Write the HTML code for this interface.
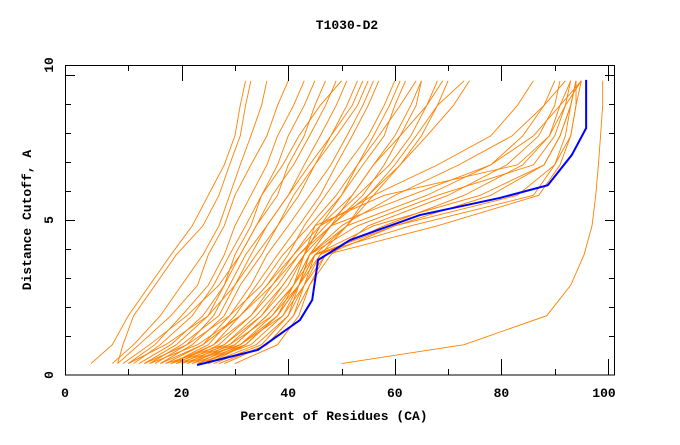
<!DOCTYPE html>
<html><head><meta charset="utf-8"><style>
body{margin:0;background:#fff}
svg text{font-family:"Liberation Mono",monospace;font-weight:bold;font-size:13px;fill:#000}
</style></head><body>
<svg id="chart" width="680" height="440" xmlns="http://www.w3.org/2000/svg">
<rect width="680" height="440" fill="#fff"/>
<text x="347" y="29" text-anchor="middle">T1030-D2</text>
<g id="series"></g>
<g id="axes"></g>
<text x="334" y="420" text-anchor="middle">Percent of Residues (CA)</text>
<text transform="translate(31,220) rotate(-90)" text-anchor="middle">Distance Cutoff, A</text>
</svg>
<script>
const levels=[0.05,0.7,1.7,2.75,3.8,4.8,5.85,6.9,7.9,8.95,9.8];
const xTicks=[0,20,40,60,80,100];
const yTicks=[0,5,10];
const models=[
[8,9,11,15,19,24,27,29,31,32,33],
[3,7,10,14,18,22,25,28,30,31,32],
[7,11,16,20,24,27,29,31,33,35,36],
[8,12,18,23,25,28,30,33,36,38,40],
[10,15,20,25,28,30,33,36,38,41,43],
[11,16,22,26,29,32,35,38,40,43,45],
[13,19,25,28,31,34,38,40,43,45,47],
[9,14,21,27,31,34,37,41,44,47,49],
[12,18,24,28,30,33,35,39,42,46,50],
[15,21,26,29,32,36,40,43,46,49,51],
[14,20,27,30,34,38,42,45,48,51,53],
[16,22,28,31,35,38,41,45,49,53,55],
[17,24,29,33,36,40,44,48,51,54,56],
[18,25,30,34,38,42,46,49,52,55,57],
[10,17,25,30,33,36,40,44,48,52,54],
[19,26,31,36,40,43,47,51,55,58,60],
[20,27,33,37,41,45,50,54,58,60,62],
[13,21,29,35,39,44,49,53,57,61,64],
[16,24,31,36,41,46,52,56,60,63,65],
[22,29,35,39,43,48,54,58,61,64,65],
[18,26,33,38,42,47,53,59,63,66,68],
[23,30,36,41,45,51,56,61,65,68,70],
[25,32,38,42,46,51,55,60,64,68,73],
[14,23,31,37,42,48,55,61,66,71,74],
[21,28,34,39,43,46,50,53,56,59,61],
[24,31,37,41,44,48,52,56,61,66,69],
[20,31,38,41,43,45,58,83,89,91,93],
[23,33,39,42,44,53,68,86,90,92,93],
[26,35,40,43,45,56,76,88,91,93,94],
[18,29,37,42,45,60,83,90,92,93,94],
[22,32,38,42,44,48,63,78,86,91,95],
[28,36,41,43,46,58,73,84,89,92,95],
[25,34,40,42,45,63,86,90,93,94,95],
[19,30,36,41,44,51,66,78,84,88,90],
[17,28,35,40,43,46,56,68,78,83,86],
[24,32,38,42,44,50,60,72,82,88,92],
[30,38,42,44,48,55,70,81,87,90,91],
[21,31,39,43,47,68,87,91,93,94,94],
[27,36,41,44,47,60,78,88,91,93,94],
[50,73,88.5,93,95.5,97,97.7,98.2,98.6,99,99]
];
const bestX=[22.9,34.3,42.2,44.5,45.6,51.6,64.7,79.7,88.7,93.2,95.9,95.9];
const bestY=[0,0.52,1.55,2.24,3.62,4.31,5.17,5.76,6.2,7.24,8.17,9.83];
const NS="http://www.w3.org/2000/svg";
const X0=75,X1=608,Y0=365,Y1=75;
function sx(v){return X0+(X1-X0)*v/100;}
function sy(v){return Y0-(Y0-Y1)*v/10;}
const g=document.getElementById('series');
models.forEach((m,i)=>{
  const p=document.createElementNS(NS,'polyline');
  p.setAttribute('points',m.map((x,j)=>sx(x)+','+sy(levels[j])).join(' '));
  p.setAttribute('fill','none');p.setAttribute('stroke','#ff8000');p.setAttribute('stroke-width','0.9');
  
  
  g.appendChild(p);
});
const b=document.createElementNS(NS,'polyline');
b.setAttribute('points',bestX.map((x,j)=>sx(x)+','+sy(bestY[j])).join(' '));
b.setAttribute('fill','none');b.setAttribute('stroke','#0000ff');b.setAttribute('stroke-width','2');


g.appendChild(b);
const a=document.getElementById('axes');
function line(x1,y1,x2,y2,name){const l=document.createElementNS(NS,'line');
l.setAttribute('x1',x1);l.setAttribute('y1',y1);l.setAttribute('x2',x2);l.setAttribute('y2',y2);
l.setAttribute('stroke','#000');l.setAttribute('stroke-width','1');


a.appendChild(l);}
const r=document.createElementNS(NS,'rect');
r.setAttribute('x',65.5);r.setAttribute('y',65.5);r.setAttribute('width',549);r.setAttribute('height',309.5);
r.setAttribute('fill','none');r.setAttribute('stroke','#000');


a.appendChild(r);
for(let v=10;v<=100;v+=10){const x=Math.round(sx(v))+0.5,len=v%20===0?16:6;
line(x,375,x,375-len,'x-tick');line(x,65,x,65+len,'x-tick-top');}
for(let v=1;v<=10;v++){const y=Math.round(sy(v))+0.5,len=v%5===0?10:6;
line(65,y,65+len,y,'y-tick');line(615,y,615-len,y,'y-tick-right');}
xTicks.forEach(v=>{const t=document.createElementNS(NS,'text');
t.setAttribute('x',v===0?65:sx(v)-(v===100?4:0));t.setAttribute('y',397);t.setAttribute('text-anchor','middle');t.textContent=v;


a.appendChild(t);});
yTicks.forEach(v=>{const t=document.createElementNS(NS,'text');
t.setAttribute('transform','translate(53,'+(v===10?65:v===0?375:sy(v))+') rotate(-90)');t.setAttribute('text-anchor','middle');t.textContent=v;


a.appendChild(t);});
</script>
</body></html>
